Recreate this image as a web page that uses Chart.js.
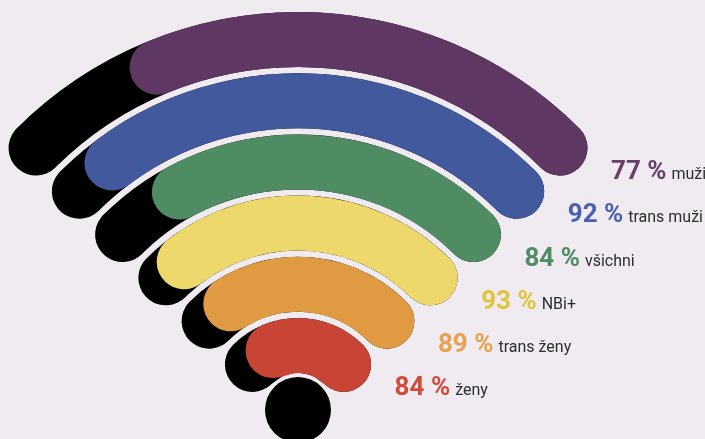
<!DOCTYPE html>
<html lang="cs">
<head>
<meta charset="utf-8">
<script src="https://cdn.jsdelivr.net/npm/chart.js@4.4.1/dist/chart.umd.min.js"></script>
<style>
  html, body { margin: 0; padding: 0; width: 705px; height: 439px; overflow: hidden; background: #efebf1; }
  .layer { position: absolute; left: -202px; top: 12px; width: 1000px; height: 796px; }
</style>
</head>
<body>
<div class="layer"><canvas id="base"></canvas></div>
<div class="layer"><canvas id="shares"></canvas></div>
<script>
const categories = ["muži", "trans muži", "všichni", "NBi+", "trans ženy", "ženy"];
const shares = [77, 92, 84, 93, 89, 84];
const ringColors = ["#5e3862", "#43599d", "#4f8c63", "#eed86b", "#df9a42", "#c84535"];
const labelColors = ["#6a3e6c", "#4a62ad", "#4f8c63", "#e2c43a", "#e8a24e", "#d24a3a"];

// ring geometry (px): outer radius, ring width, gaps, centre dot
const OUTER = 398, RING = 55, GAP = 6.2, DOT_GAP = 4, DOT = 33;

Chart.defaults.font.family = "Roboto";

// each ring spans 90° between its cap centres, caps added on both ends
function ringSweep(i) {
  const mid = OUTER - i * (RING + GAP) - RING / 2;
  const capDeg = (RING / 2) / mid * 180 / Math.PI;
  return { rotation: -45 - capDeg, circumference: 90 + 2 * capDeg };
}

const flat = { borderWidth: 0, hoverBorderWidth: 0, hoverOffset: 0, offset: 0 };
const ringIndexes = [];

function buildDatasets(colored) {
  const sets = [];
  categories.forEach((_, i) => {
    const sweep = ringSweep(i);
    ringIndexes[i] = sets.length;
    sets.push({
      ...flat,
      ...sweep,
      label: categories[i],
      data: colored ? [100 - shares[i], shares[i]] : [100],
      backgroundColor: colored ? ["rgba(0,0,0,0)", ringColors[i]] : ["#000"],
      borderRadius: RING,
      weight: RING,
    });
    sets.push({
      ...flat,
      data: [1],
      backgroundColor: ["rgba(0,0,0,0)"],
      weight: i < categories.length - 1 ? GAP : DOT_GAP,
    });
  });
  sets.push({
    ...flat,
    data: [1],
    backgroundColor: [colored ? "rgba(0,0,0,0)" : "#000"],
    weight: DOT,
  });
  return sets;
}

const commonOptions = {
  responsive: true,
  maintainAspectRatio: false,
  animation: false,
  events: [],
  cutout: 0,
  layout: { padding: 0 },
  plugins: { legend: { display: false }, tooltip: { enabled: false } },
};

const shareLabels = {
  id: "shareLabels",
  afterDraw(chart) {
    const ctx = chart.ctx;
    ringIndexes.forEach((dsIndex, i) => {
      const arc = chart.getDatasetMeta(dsIndex).data[1];
      const { x, y, endAngle, innerRadius, outerRadius } =
        arc.getProps(["x", "y", "endAngle", "innerRadius", "outerRadius"], true);
      const mid = (innerRadius + outerRadius) / 2;
      const a = endAngle - (outerRadius - innerRadius) / 2 / mid;
      const lx = x + mid * Math.cos(a) + 51;
      const ly = y + mid * Math.sin(a) + 31;
      const num = shares[i] + " %";
      ctx.save();
      ctx.textBaseline = "alphabetic";
      ctx.font = "700 26px Roboto";
      ctx.fillStyle = labelColors[i];
      ctx.fillText(num, lx, ly);
      const w = ctx.measureText(num).width;
      ctx.font = "400 16px Roboto";
      ctx.fillStyle = "#2e2e2e";
      ctx.fillText(categories[i], lx + w + 5, ly);
      ctx.restore();
    });
  },
};

new Chart(document.getElementById("base"), {
  type: "doughnut",
  data: { labels: ["rest", "share"], datasets: buildDatasets(false) },
  options: commonOptions,
});

new Chart(document.getElementById("shares"), {
  type: "doughnut",
  data: { labels: ["rest", "share"], datasets: buildDatasets(true) },
  options: commonOptions,
  plugins: [shareLabels],
});
</script>
</body>
</html>
